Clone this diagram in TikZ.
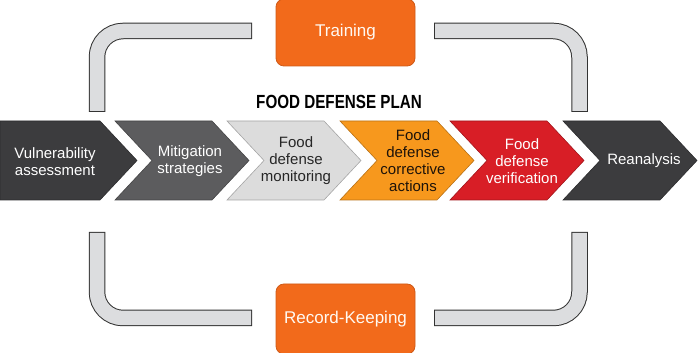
\documentclass[tikz,border=0pt]{standalone}
\usepackage{fontspec}
\setmainfont{Liberation Sans}
\newfontfamily\titlefont[FakeStretch=0.8]{Liberation Sans}
\usepackage{tikz}
\usetikzlibrary{positioning}

\definecolor{DarkCoal}{RGB}{60,60,62}
\definecolor{MidGray}{RGB}{92,92,94}
\definecolor{PaleGray}{RGB}{220,220,220}
\definecolor{AmberOrange}{RGB}{247,152,29}
\definecolor{AlertRed}{RGB}{216,30,38}
\definecolor{BoxOrange}{RGB}{242,106,27}
\definecolor{RailGray}{RGB}{220,221,223}

\tikzset{
  chevline/.style={draw=#1!75!black, fill=#1, line width=0.6pt},
  chevtext/.style={align=center, font=\fontsize{15}{17}\selectfont, inner sep=0pt},
  railout/.style={draw=black!80, line width=16.5pt, rounded corners=26pt},
  railin/.style={draw=RailGray, line width=14.5pt, rounded corners=26pt,
                 shorten <=1pt, shorten >=1pt},
  orangebox/.style={draw=BoxOrange!85!black, fill=BoxOrange, rounded corners=8pt,
                    line width=0.8pt, minimum width=139pt, text=white!95!orange,
                    font=\fontsize{17}{19}\selectfont}
}

% one chevron, starting at x = #1
\newcommand{\chevshape}[2]{%
  \path[chevline=#2] (#1,232) -- ++(97,0) -- ++(37,-39.5) -- ++(-37,-39.5)
    -- ++(-97,0) -- ++(37,39.5) -- cycle;}

\begin{document}
\begin{tikzpicture}[x=1pt, y=1pt]
  \useasboundingbox (0,0) rectangle (698,353);

  % rails round the plan
  \foreach \s in {railout, railin} {
    \draw[\s] (252,322) -- (97,322) -- (97,241);
    \draw[\s] (434,322) -- (579.5,322) -- (579.5,241);
    \draw[\s] (97,121) -- (97,35) -- (252,35);
    \draw[\s] (579.5,121) -- (579.5,35) -- (434,35);
  }

  \node[orangebox, minimum height=67pt] (training) at (345.5,320.5) {Training};
  \node[orangebox, minimum height=70pt] (records) at (345.5,34) {Record-Keeping};

  \node[font=\titlefont\bfseries\fontsize{19}{21}\selectfont] (plan) at (339,251)
    {FOOD DEFENSE PLAN};

  % the six steps
  \path[chevline=DarkCoal] (0,232) -- (100,232) -- (137,192.5) -- (100,153)
    -- (0,153) -- cycle;
  \chevshape{115}{MidGray}
  \chevshape{227}{PaleGray}
  \chevshape{340}{AmberOrange}
  \chevshape{450}{AlertRed}
  \chevshape{563}{DarkCoal}

  \node[chevtext, text=white] (assess) at (55,191) {Vulnerability\\assessment};
  \node[chevtext, text=white] (mitigate) at (190,192) {Mitigation\\strategies};
  \node[chevtext, text=black!85] (monitor) at (296,192) {Food\\defense\\monitoring};
  \node[chevtext, text=black!85!brown] (correct) at (413,192)
    {Food\\defense\\corrective\\actions};
  \node[chevtext, text=white] (verify) at (522,192) {Food\\defense\\verification};
  \node[chevtext, text=white] (reanalyse) at (644,192) {Reanalysis};
\end{tikzpicture}
\end{document}
